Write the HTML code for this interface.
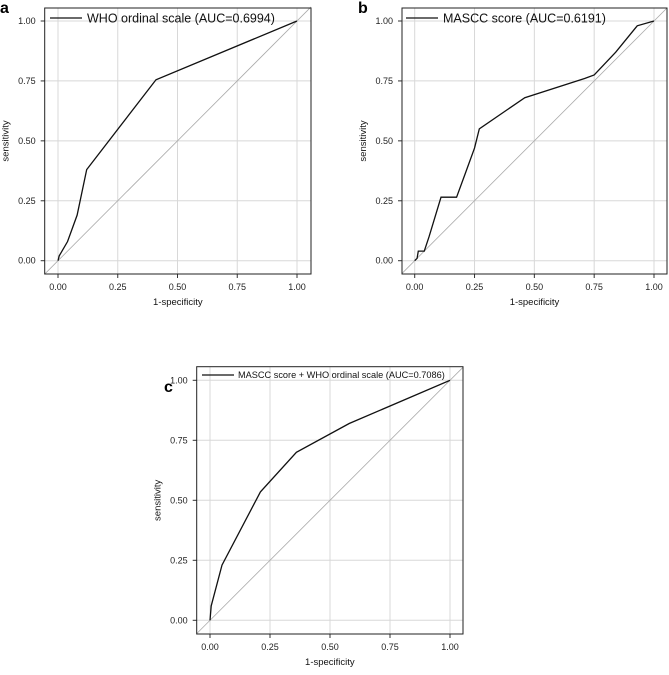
<!DOCTYPE html>
<html><head><meta charset="utf-8"><style>
body{margin:0;background:#fff;width:669px;height:670px;overflow:hidden}
svg{font-family:"Liberation Sans",sans-serif}
</style></head><body>
<svg id="s" width="669" height="670"></svg>
<script>
const ticks=[0,0.25,0.5,0.75,1];
const tickLabels=["0.00","0.25","0.50","0.75","1.00"];
const aFpr=[0,0.005,0.04,0.08,0.12,0.41,1];
const aTpr=[0,0.02,0.08,0.19,0.38,0.755,1];
const bFpr=[0,0.01,0.015,0.04,0.06,0.11,0.175,0.21,0.25,0.27,0.46,0.71,0.75,0.84,0.93,1];
const bTpr=[0,0.01,0.04,0.04,0.10,0.265,0.265,0.36,0.47,0.55,0.68,0.76,0.775,0.87,0.98,1];
const cFpr=[0,0.005,0.05,0.21,0.36,0.58,1];
const cTpr=[0,0.06,0.23,0.535,0.70,0.82,1];
const NS="http://www.w3.org/2000/svg";
const svg=document.getElementById('s');
function mk(tag,attrs,parent,text){const e=document.createElementNS(NS,tag);for(const k in attrs)e.setAttribute(k,attrs[k]);if(text!=null)e.textContent=text;parent.appendChild(e);return e;}
function panel(id,letter,fl,fr,ft,fb,x0,x1,y0,y1,fpr,tpr,legend,lfs,ly,lx,letX,letY,gap){
  const g=mk('g',{},svg);
  
  
  const sx=v=>x0+v*(x1-x0), sy=v=>y0+v*(y1-y0);
  ticks.forEach((t,i)=>{
    const gx=mk('line',{x1:sx(t),x2:sx(t),y1:ft,y2:fb,stroke:'#d8d8d8','stroke-width':1},g);
    
    const gy=mk('line',{x1:fl,x2:fr,y1:sy(t),y2:sy(t),stroke:'#d8d8d8','stroke-width':1},g);
    
    const tx=mk('text',{x:sx(t),y:fb+16,'font-size':9,'text-anchor':'middle',fill:'#222'},g,tickLabels[i]);
    
    const ty=mk('text',{x:fl-9,y:sy(t)+3,'font-size':9,'text-anchor':'end',fill:'#222'},g,tickLabels[i]);
    
    mk('line',{x1:sx(t),x2:sx(t),y1:fb,y2:fb+4,stroke:'#333'},g);
    mk('line',{x1:fl-4,x2:fl,y1:sy(t),y2:sy(t),stroke:'#333'},g);
  });
  const dx0=(fl-x0)/(x1-x0), dx1=(fr-x0)/(x1-x0);
  const d=mk('line',{x1:fl,y1:sy(dx0),x2:fr,y2:sy(dx1),stroke:'#aaa','stroke-width':0.8},g);
  
  const pts=fpr.map((f,i)=>sx(f)+','+sy(tpr[i])).join(' ');
  const c=mk('polyline',{points:pts,fill:'none',stroke:'#111','stroke-width':1.3},g);
  
  const fr_=mk('rect',{x:fl,y:ft,width:fr-fl,height:fb-ft,fill:'none',stroke:'#222','stroke-width':1},g);
  
  const ll=mk('line',{x1:lx,x2:lx+32,y1:ly,y2:ly,stroke:'#111','stroke-width':1.2},g);
  
  const lt=mk('text',{x:lx+32+gap,y:ly+lfs*0.35,'font-size':lfs,fill:'#111'},g,legend);
  
  const xl=mk('text',{x:(fl+fr)/2,y:fb+31,'font-size':9.5,'text-anchor':'middle',fill:'#111'},g,'1-specificity');
  
  const yx=fl-36, yy=(ft+fb)/2;
  const yl=mk('text',{x:yx,y:yy,'font-size':9.5,'text-anchor':'middle',fill:'#111',transform:`rotate(-90 ${yx} ${yy})`},g,'sensitivity');
  
  const lb=mk('text',{x:letX,y:letY,'font-size':16,'font-weight':'bold',fill:'#000'},g,letter);
  
}
panel('a','a',44.7,311,8,274,58,297,260.7,21,aFpr,aTpr,'WHO ordinal scale (AUC=0.6994)',12.5,18,50,0,13,5);
panel('b','b',402,667,8,274,414.7,654,260.7,21,bFpr,bTpr,'MASCC score (AUC=0.6191)',12.5,18,406,358,13,5);
panel('c','c',196.7,463,366.7,634,210,450,620.3,380.3,cFpr,cTpr,'MASCC score + WHO ordinal scale (AUC=0.7086)',9.2,375,202,164,392,4);
</script>
</body></html>
